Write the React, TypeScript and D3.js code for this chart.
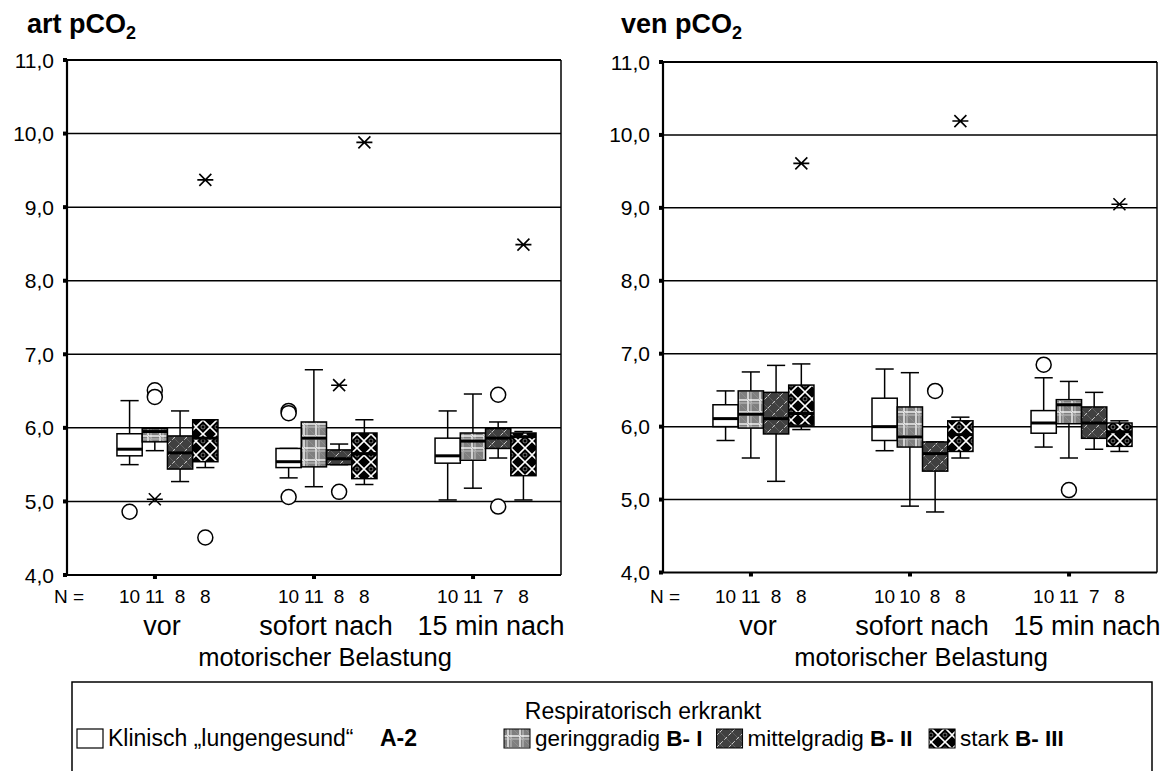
import React from "react";
import * as d3 from "d3";

const groups = ["vor", "sofort nach", "15 min nach"];
const seriesKeys = ["A-2", "B-I", "B-II", "B-III"];
const yTicks = [4, 5, 6, 7, 8, 9, 10, 11];

// [lower whisker, Q1, median, Q3, upper whisker] per group
const artA2 = [[5.50, 5.62, 5.71, 5.92, 6.37], [5.32, 5.46, 5.54, 5.72, 5.72], [5.02, 5.52, 5.62, 5.86, 6.23]];
const artBI = [[5.69, 5.81, 5.95, 5.99, 5.99], [5.20, 5.47, 5.86, 6.08, 6.79], [5.18, 5.56, 5.82, 5.93, 6.46]];
const artBII = [[5.27, 5.44, 5.66, 5.89, 6.23], [5.50, 5.50, 5.58, 5.70, 5.78], [5.59, 5.72, 5.86, 5.99, 6.08]];
const artBIII = [[5.46, 5.54, 5.86, 6.11, 6.11], [5.23, 5.31, 5.65, 5.93, 6.11], [5.02, 5.35, 5.88, 5.93, 5.95]];
// [group, series, value, kind]
const artOutliers: [number, number, number, string][] = [
  [0, 0, 4.86, "o"], [0, 1, 6.51, "o"], [0, 1, 6.42, "o"], [0, 1, 5.03, "*"], [0, 3, 4.51, "o"], [0, 3, 9.37, "*"],
  [1, 0, 6.23, "o"], [1, 0, 6.20, "o"], [1, 0, 5.06, "o"], [1, 2, 5.13, "o"], [1, 2, 6.58, "*"], [1, 3, 9.88, "*"],
  [2, 2, 6.45, "o"], [2, 2, 4.93, "o"], [2, 3, 8.49, "*"],
];
const artN = [[10, 11, 8, 8], [10, 11, 8, 8], [10, 11, 7, 8]];

const venA2 = [[5.81, 6.00, 6.11, 6.30, 6.49], [5.67, 5.81, 6.00, 6.39, 6.79], [5.72, 5.91, 6.05, 6.22, 6.67]];
const venBI = [[5.57, 5.98, 6.17, 6.49, 6.75], [4.91, 5.72, 5.86, 6.27, 6.74], [5.57, 6.04, 6.30, 6.37, 6.62]];
const venBII = [[5.25, 5.90, 6.11, 6.47, 6.84], [4.83, 5.39, 5.63, 5.79, 5.79], [5.69, 5.84, 6.05, 6.27, 6.47]];
const venBIII = [[5.96, 6.02, 6.18, 6.57, 6.86], [5.57, 5.66, 5.89, 6.08, 6.13], [5.66, 5.73, 5.93, 6.05, 6.08]];
const venOutliers: [number, number, number, string][] = [
  [0, 3, 9.61, "*"], [1, 2, 6.49, "o"], [1, 3, 10.19, "*"], [2, 0, 6.85, "o"], [2, 1, 5.13, "o"], [2, 3, 9.05, "*"],
];
const venN = [[10, 11, 8, 8], [10, 10, 8, 8], [10, 11, 7, 8]];

const legendNames = ["geringgradig", "mittelgradig", "stark"];
const legendCodes = ["B- I", "B- II", "B- III"];

const FONT = "Arial, 'Liberation Sans', sans-serif";
const fills = ["#ffffff", "url(#patBI)", "url(#patBII)", "url(#patBIII)"];
const fmt = (v: number) => d3.format(".1f")(v).replace(".", ",");
const labelShift = [7, 12, 18];

function Star({ x, y }: { x: number; y: number }) {
  return (
    <path
      d={`M${x - 8},${y}H${x + 8}M${x - 6},${y - 6}L${x + 6},${y + 6}M${x - 6},${y + 6}L${x + 6},${y - 6}`}
      stroke="#000"
      strokeWidth={1.6}
    />
  );
}

function Panel(props: {
  title: string;
  titleX: number;
  x0: number;
  x1: number;
  yTop: number;
  yBottom: number;
  series: number[][][];
  outliers: [number, number, number, string][];
  ns: number[][];
}) {
  const { title, titleX, x0, x1, yTop, yBottom, series, outliers, ns } = props;
  const y = d3.scaleLinear().domain([4, 11]).range([yBottom, yTop]);
  const x = d3.scalePoint<string>().domain(groups).range([x0, x1]).padding(0.553);
  const sub = d3.scaleBand<string>().domain(seriesKeys).range([-38, 63]);
  const bw = sub.bandwidth();
  const cap = bw * 0.36;
  const cx = (g: number, s: number) => (x(groups[g]) as number) + (sub(seriesKeys[s]) as number) + bw / 2;
  const tickX = (g: number) => x(groups[g]) as number;

  return (
    <g>
      <text x={titleX} y={33} fontFamily={FONT} fontWeight="bold" fontSize={27}>
        {title}
        <tspan fontSize={18} dy={6}>2</tspan>
      </text>
      {yTicks.filter((t) => t > 4 && t < 11).map((t) => (
        <line key={t} x1={x0} x2={x1} y1={y(t)} y2={y(t)} stroke="#000" strokeWidth={1.5} />
      ))}
      {yTicks.map((t) => (
        <g key={"yt" + t}>
          <rect x={x0 - 4} y={y(t) - 2} width={4} height={4} fill="#000" />
          <text x={x0 - 13} y={y(t) + 7.5} textAnchor="end" fontFamily={FONT} fontSize={21}>
            {fmt(t)}
          </text>
        </g>
      ))}
      {series.map((ser, s) =>
        ser.map((b, g) => {
          const c = cx(g, s);
          const left = c - bw / 2;
          const [lo, q1, md, q3, hi] = b;
          return (
            <g key={`b${s}-${g}`}>
              <line x1={c} x2={c} y1={y(hi)} y2={y(q3)} stroke="#000" strokeWidth={1.5} />
              <line x1={c} x2={c} y1={y(q1)} y2={y(lo)} stroke="#000" strokeWidth={1.5} />
              <line x1={c - cap} x2={c + cap} y1={y(hi)} y2={y(hi)} stroke="#000" strokeWidth={1.5} />
              <line x1={c - cap} x2={c + cap} y1={y(lo)} y2={y(lo)} stroke="#000" strokeWidth={1.5} />
              <rect x={left} y={y(q3)} width={bw} height={y(q1) - y(q3)} fill={fills[s]} stroke="#000" strokeWidth={1.5} />
              <line x1={left} x2={left + bw} y1={y(md)} y2={y(md)} stroke="#000" strokeWidth={3} />
            </g>
          );
        })
      )}
      {outliers.map(([g, s, v, k], i) =>
        k === "o" ? (
          <circle key={"o" + i} cx={cx(g, s)} cy={y(v)} r={7.5} fill="#fff" stroke="#000" strokeWidth={1.5} />
        ) : (
          <Star key={"o" + i} x={cx(g, s)} y={y(v)} />
        )
      )}
      <line x1={x0} x2={x1} y1={yTop} y2={yTop} stroke="#000" strokeWidth={2} />
      <line x1={x1} x2={x1} y1={yTop} y2={yBottom} stroke="#000" strokeWidth={1.5} />
      <line x1={x0} x2={x0} y1={yTop} y2={yBottom} stroke="#000" strokeWidth={2.2} />
      <line x1={x0} x2={x1} y1={yBottom} y2={yBottom} stroke="#000" strokeWidth={2.2} />
      {groups.map((gName) => (
        <rect key={"xt" + gName} x={(x(gName) as number) - 2} y={yBottom} width={4} height={4} fill="#000" />
      ))}
      <text x={x0 - 13} y={603} fontFamily={FONT} fontSize={19}>N =</text>
      {ns.map((row, g) =>
        row.map((n, s) => (
          <text key={`n${g}-${s}`} x={cx(g, s)} y={603} textAnchor="middle" fontFamily={FONT} fontSize={19}>
            {n}
          </text>
        ))
      )}
      {groups.map((gName, g) => (
        <text key={"c" + gName} x={tickX(g) + labelShift[g]} y={635} textAnchor="middle" fontFamily={FONT} fontSize={27}>
          {gName}
        </text>
      ))}
      <text x={tickX(1) + 11} y={666} textAnchor="middle" fontFamily={FONT} fontSize={25.5}>
        motorischer Belastung
      </text>
    </g>
  );
}

function Legend() {
  const fs = 22.5;
  // approximate advance widths (em) of the legend strings
  const nameEm = [5.836, 5.556, 2.445];
  const codeEm = [1.611, 1.889, 2.167];
  const items: { sx: number; tx: number }[] = [];
  let cur = 504;
  for (let i = 0; i < 3; i++) {
    items.push({ sx: cur, tx: cur + 31 });
    cur = cur + 31 + (nameEm[i] + codeEm[i]) * fs + 14;
  }
  return (
    <g>
      <rect x={72} y={682} width={1080} height={120} fill="none" stroke="#000" strokeWidth={1.5} />
      <text x={643} y={719} textAnchor="middle" fontFamily={FONT} fontSize={23}>Respiratorisch erkrankt</text>
      <rect x={77} y={729} width={26} height={19} fill={fills[0]} stroke="#000" strokeWidth={1.2} />
      <text x={108} y={746} fontFamily={FONT} fontSize={23}>Klinisch „lungengesund“</text>
      <text x={380} y={746} fontFamily={FONT} fontSize={23} fontWeight="bold">A-2</text>
      {items.map((it, i) => (
        <g key={"lg" + i}>
          <rect x={it.sx} y={729} width={26} height={19} fill={fills[i + 1]} stroke="#000" strokeWidth={1} />
          <text x={it.tx} y={746} fontFamily={FONT} fontSize={fs}>
            {legendNames[i] + " "}
            <tspan fontWeight="bold">{legendCodes[i]}</tspan>
          </text>
        </g>
      ))}
    </g>
  );
}

export default function App() {
  return (
    <svg width={1173} height={771} style={{ position: "absolute", left: 0, top: 0, background: "#fff" }}>
      <defs>
        <pattern id="patBI" width={12} height={12} patternUnits="userSpaceOnUse">
          <rect width={12} height={12} fill="#7f7f7f" />
          <line x1={4} x2={4} y1={0} y2={12} stroke="#fff" strokeWidth={1.3} />
          <line x1={7} x2={7} y1={0} y2={12} stroke="#d8d8d8" strokeWidth={0.8} />
          <line x1={0} x2={12} y1={4} y2={4} stroke="#fff" strokeWidth={1.3} />
          <line x1={0} x2={12} y1={7} y2={7} stroke="#d8d8d8" strokeWidth={0.8} />
          <line x1={0} x2={12} y1={0} y2={12} stroke="#9a9a9a" strokeWidth={0.6} />
        </pattern>
        <pattern id="patBII" width={12} height={12} patternUnits="userSpaceOnUse">
          <rect width={12} height={12} fill="#404040" />
          <line x1={0} x2={12} y1={12} y2={0} stroke="#c8c8c8" strokeWidth={1} strokeDasharray="4 2" />
          <line x1={0} x2={12} y1={0} y2={12} stroke="#6a6a6a" strokeWidth={0.7} />
        </pattern>
        <pattern id="patBIII" width={14} height={14} patternUnits="userSpaceOnUse">
          <rect width={14} height={14} fill="#000" />
          <path d="M0,7L7,0L14,7L7,14Z" fill="none" stroke="#fff" strokeWidth={1.6} />
          <circle cx={7} cy={7} r={2} fill="#000" stroke="#bbb" strokeWidth={0.6} />
        </pattern>
      </defs>
      <rect width={1173} height={771} fill="#fff" />
      <Panel
        title="art pCO"
        titleX={27}
        x0={67}
        x1={561}
        yTop={60}
        yBottom={575}
        series={[artA2, artBI, artBII, artBIII]}
        outliers={artOutliers}
        ns={artN}
      />
      <Panel
        title="ven pCO"
        titleX={621}
        x0={663}
        x1={1157}
        yTop={62}
        yBottom={572.5}
        series={[venA2, venBI, venBII, venBIII]}
        outliers={venOutliers}
        ns={venN}
      />
      <Legend />
    </svg>
  );
}
